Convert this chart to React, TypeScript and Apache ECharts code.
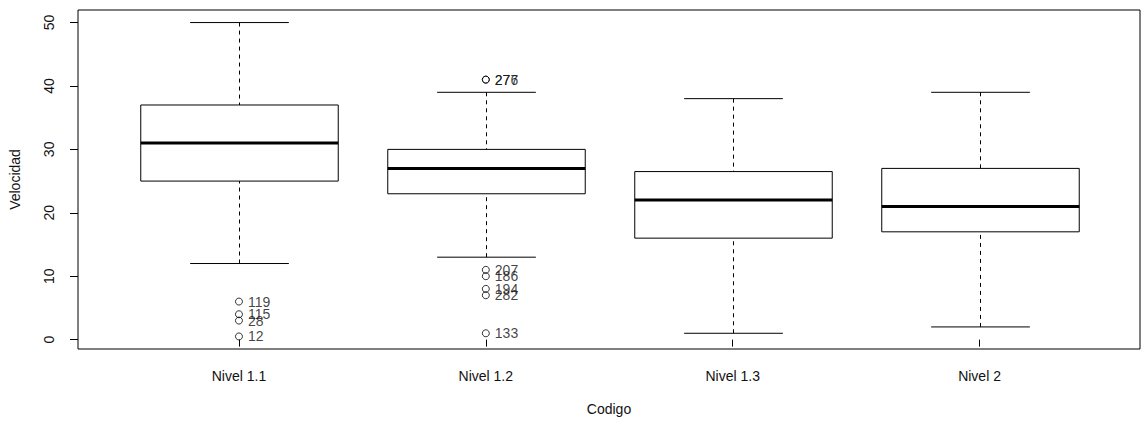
import React, { useEffect, useRef } from "react";
import * as echarts from "echarts";

const categories = ["Nivel 1.1", "Nivel 1.2", "Nivel 1.3", "Nivel 2"];
const lowerWhisker = [12, 13, 1, 2];
const firstQuartile = [25, 23, 16, 17];
const medians = [31, 27, 22, 21];
const thirdQuartile = [37, 30, 26.5, 27];
const upperWhisker = [50, 39, 38, 39];

const outlierGroup = [1, 1, 1, 1, 2, 2, 2, 2, 2, 2, 2];
const outlierValue = [6, 4, 3, 0.5, 41, 41, 11, 10, 8, 7, 1];
const outlierLabel = ["119", "115", "28", "12", "276", "277", "207", "186", "194", "282", "133"];

const yTicks = [0, 10, 20, 30, 40, 50];

const FONT = "'Liberation Sans', Arial, sans-serif";
const TXT = "#111";

export default function App() {
  const ref = useRef<HTMLDivElement>(null);
  useEffect(() => {
    if (!ref.current) return;
    const chart = echarts.init(ref.current, null, { renderer: "svg" });
    const boxData = categories.map((_, i) => [
      i + 1,
      lowerWhisker[i],
      firstQuartile[i],
      medians[i],
      thirdQuartile[i],
      upperWhisker[i],
    ]);
    const outData = outlierValue.map((v, i) => ({
      value: [outlierGroup[i], v],
      name: outlierLabel[i],
    }));
    const boxWidth = 0.8;
    chart.setOption({
      animation: false,
      backgroundColor: "#fff",
      grid: {
        left: 76,
        right: 2,
        top: 10,
        bottom: 64,
        show: true,
        borderColor: "#000",
        borderWidth: 1,
        backgroundColor: "transparent",
      },
      xAxis: {
        type: "value",
        min: 0.348,
        max: 4.65,
        name: "Codigo",
        nameLocation: "middle",
        nameGap: 53,
        nameTextStyle: { fontFamily: FONT, fontSize: 14, color: TXT },
        axisLine: { show: false },
        splitLine: { show: false },
        axisTick: {
          show: true,
          length: 7,
          customValues: [1, 2, 3, 4],
          lineStyle: { color: "#000" },
        },
        axisLabel: {
          customValues: [1, 2, 3, 4],
          formatter: (v: number) => categories[Math.round(v) - 1] ?? "",
          fontFamily: FONT,
          fontSize: 14,
          color: TXT,
          margin: 20,
        },
      },
      yAxis: {
        type: "value",
        min: -1.48,
        max: 51.98,
        name: "Velocidad",
        nameLocation: "middle",
        nameGap: 56,
        nameTextStyle: { fontFamily: FONT, fontSize: 14, color: TXT },
        axisLine: { show: false },
        splitLine: { show: false },
        axisTick: {
          show: true,
          length: 8,
          customValues: yTicks,
          lineStyle: { color: "#000" },
        },
        axisLabel: {
          customValues: yTicks,
          rotate: 90,
          fontFamily: FONT,
          fontSize: 14,
          color: TXT,
          margin: 22,
        },
      },
      series: [
        {
          type: "custom",
          data: boxData,
          encode: { x: 0, y: [1, 2, 3, 4, 5] },
          renderItem: (params: any, api: any) => {
            const x = api.value(0);
            const lo = api.coord([x, api.value(1)]);
            const q1 = api.coord([x, api.value(2)]);
            const md = api.coord([x, api.value(3)]);
            const q3 = api.coord([x, api.value(4)]);
            const hi = api.coord([x, api.value(5)]);
            const half = api.size([boxWidth, 0])[0] / 2;
            const cap = half / 2;
            const cx = Math.round(lo[0]) + 0.5;
            const dash = { stroke: "#000", lineWidth: 1, lineDash: [4, 4] };
            const solid = { stroke: "#000", lineWidth: 1 };
            return {
              type: "group",
              children: [
                { type: "line", shape: { x1: cx, y1: hi[1], x2: cx, y2: q3[1] }, style: dash },
                { type: "line", shape: { x1: cx, y1: lo[1], x2: cx, y2: q1[1] }, style: dash },
                { type: "line", shape: { x1: cx - cap, y1: hi[1], x2: cx + cap, y2: hi[1] }, style: solid },
                { type: "line", shape: { x1: cx - cap, y1: lo[1], x2: cx + cap, y2: lo[1] }, style: solid },
                {
                  type: "rect",
                  shape: { x: cx - half, y: q3[1], width: 2 * half, height: q1[1] - q3[1] },
                  style: { fill: "none", stroke: "#000", lineWidth: 1 },
                },
                {
                  type: "line",
                  shape: { x1: cx - half, y1: md[1], x2: cx + half, y2: md[1] },
                  style: { stroke: "#000", lineWidth: 3 },
                },
              ],
            };
          },
        },
        {
          type: "scatter",
          data: outData,
          symbol: "circle",
          symbolSize: 7,
          itemStyle: { color: "rgba(0,0,0,0)", borderColor: "#000", borderWidth: 1 },
          label: {
            show: true,
            position: "right",
            distance: 5,
            formatter: (p: any) => p.name,
            fontFamily: FONT,
            fontSize: 14,
            color: TXT,
          },
          labelLayout: { hideOverlap: false },
        },
      ],
    });
    return () => chart.dispose();
  }, []);
  return (
    <div
      ref={ref}
      style={{ position: "absolute", left: 0, top: 0, width: 1142, height: 421 }}
    />
  );
}
